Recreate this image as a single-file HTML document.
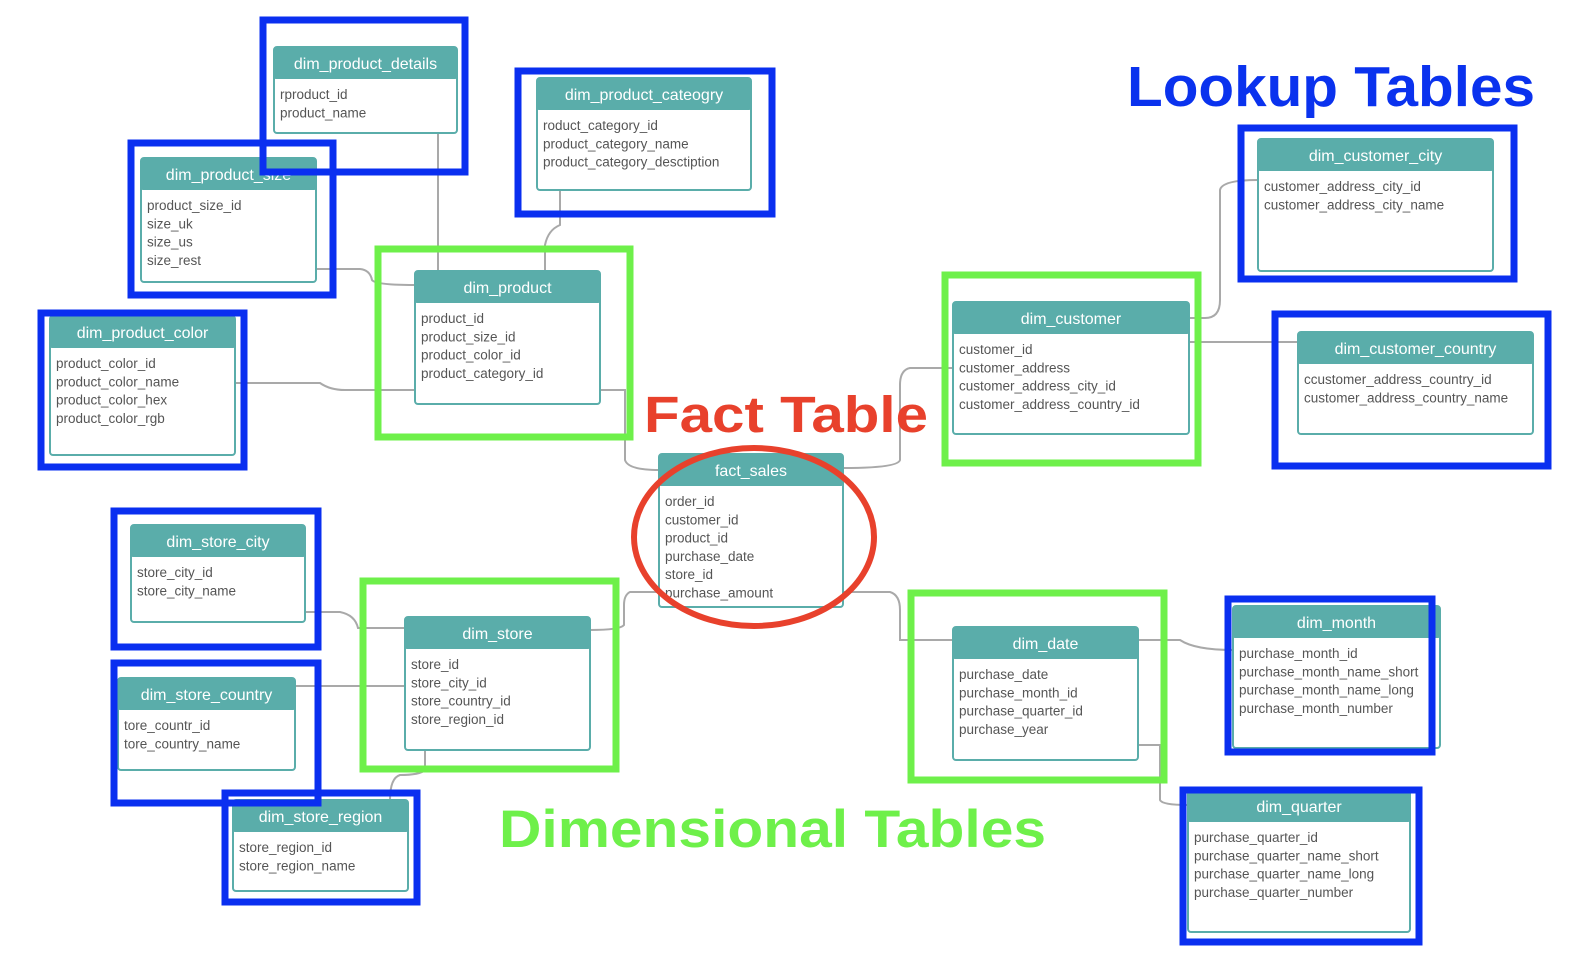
<!DOCTYPE html>
<html><head><meta charset="utf-8"><style>
html,body{margin:0;padding:0;background:#fff;}
svg{display:block;font-family:"Liberation Sans","DejaVu Sans",sans-serif;}
</style></head><body>
<svg id="s" width="1570" height="970" viewBox="0 0 1570 970">
<g id="lines" fill="none" stroke="#a9a9a9" stroke-width="2">
<path d="M438 133 V271"/>
<path d="M560 190 V225 Q548 230 545 245 V271"/>
<path d="M316 269 H360 Q370 270 372 280 Q375 285 415 285"/>
<path d="M235 383 H320 Q330 390 345 390 H415"/>
<path d="M600 390 H625 V460 Q628 470 659 470"/>
<path d="M1189 318 H1205 Q1220 318 1220 300 V190 Q1222 180 1258 180"/>
<path d="M1189 342 H1298"/>
<path d="M953 368 H910 Q900 370 900 385 V460 Q898 468 843 468"/>
<path d="M659 592 H630 Q624 595 624 605 V625 Q620 630 590 630"/>
<path d="M305 612 H340 Q355 615 358 628 H405"/>
<path d="M295 686 H405"/>
<path d="M425 750 V770 Q420 775 400 775 Q390 778 390 800"/>
<path d="M843 592 H890 Q900 595 900 610 V640 H953"/>
<path d="M1138 640 H1180 Q1195 650 1233 650"/>
<path d="M1138 745 H1160 V800 Q1162 805 1188 805"/>
</g>
<g id="tables"></g>
<g id="highlights" fill="none" stroke-width="7"></g>
<ellipse cx="754" cy="537" rx="120" ry="89" fill="none" stroke="#e8412c" stroke-width="6"/>
<text x="1127" y="106" font-size="57" font-weight="bold" fill="#0a32ee" textLength="408" lengthAdjust="spacingAndGlyphs">Lookup Tables</text>
<text x="644" y="432" font-size="51" font-weight="bold" fill="#e8412c" textLength="284" lengthAdjust="spacingAndGlyphs">Fact Table</text>
<text x="499" y="847" font-size="53" font-weight="bold" fill="#6ef04a" textLength="547" lengthAdjust="spacingAndGlyphs">Dimensional Tables</text>
</svg>
<script>
const NS="http://www.w3.org/2000/svg";
const tables=[
["dim_product_details",274,47,183,86,["rproduct_id","product_name"]],
["dim_product_cateogry",537,78,214,112,["roduct_category_id","product_category_name","product_category_desctiption"]],
["dim_product_size",141,158,175,124,["product_size_id","size_uk","size_us","size_rest"]],
["dim_product_color",50,316,185,139,["product_color_id","product_color_name","product_color_hex","product_color_rgb"]],
["dim_product",415,271,185,133,["product_id","product_size_id","product_color_id","product_category_id"]],
["dim_customer_city",1258,139,235,132,["customer_address_city_id","customer_address_city_name"]],
["dim_customer",953,302,236,132,["customer_id","customer_address","customer_address_city_id","customer_address_country_id"]],
["dim_customer_country",1298,332,235,102,["ccustomer_address_country_id","customer_address_country_name"]],
["fact_sales",659,454,184,153,["order_id","customer_id","product_id","purchase_date","store_id","purchase_amount"]],
["dim_store_city",131,525,174,97,["store_city_id","store_city_name"]],
["dim_store",405,617,185,133,["store_id","store_city_id","store_country_id","store_region_id"]],
["dim_store_country",118,678,177,92,["tore_countr_id","tore_country_name"]],
["dim_store_region",233,800,175,91,["store_region_id","store_region_name"]],
["dim_date",953,627,185,133,["purchase_date","purchase_month_id","purchase_quarter_id","purchase_year"]],
["dim_month",1233,606,207,142,["purchase_month_id","purchase_month_name_short","purchase_month_name_long","purchase_month_number"]],
["dim_quarter",1188,790,222,142,["purchase_quarter_id","purchase_quarter_name_short","purchase_quarter_name_long","purchase_quarter_number"]]
];
const blueBoxes=[[260,17,208,158],[515,68,260,149],[128,140,208,158],[38,310,209,160],[1238,125,279,157],[1272,311,279,158],[111,508,210,142],[111,660,210,146],[222,790,198,115],[1225,596,210,159],[1180,787,242,158]];
const greenBoxes=[[375,246,258,194],[942,272,259,194],[360,578,259,194],[908,590,259,193]];
const tg=document.getElementById('tables');
function mk(t,a,p){const e=document.createElementNS(NS,t);for(const k in a)e.setAttribute(k,a[k]);p.appendChild(e);return e;}
tables.forEach(t=>{
 const [name,x,y,w,h,fields]=t;
 const g=mk('g',{},tg);
 
 
 mk('rect',{x:x,y:y,width:w,height:h,fill:'#fff',stroke:'#5aadaa','stroke-width':2,rx:3},g);
 mk('rect',{x:x,y:y,width:w,height:32,fill:'#5aadaa',rx:2},g);
 const ht=mk('text',{x:x+w/2,y:y+22,'text-anchor':'middle','font-size':16,fill:'#fff'},g);
 ht.textContent=name;
 fields.forEach((f,i)=>{
  const ft=mk('text',{x:x+6,y:y+52+i*18.3,'font-size':13.5,fill:'#555'},g);
  
  
  ft.textContent=f;
 });
});
const hg=document.getElementById('highlights');
blueBoxes.forEach(b=>{
 const r=mk('rect',{x:b[0]+3,y:b[1]+3,width:b[2]-6,height:b[3]-6,stroke:'#0a2ff0'},hg);
 
 
});
greenBoxes.forEach(b=>{
 const r=mk('rect',{x:b[0]+3,y:b[1]+3,width:b[2]-6,height:b[3]-6,stroke:'#6ef04a'},hg);
 
 
});
</script>
</body></html>
